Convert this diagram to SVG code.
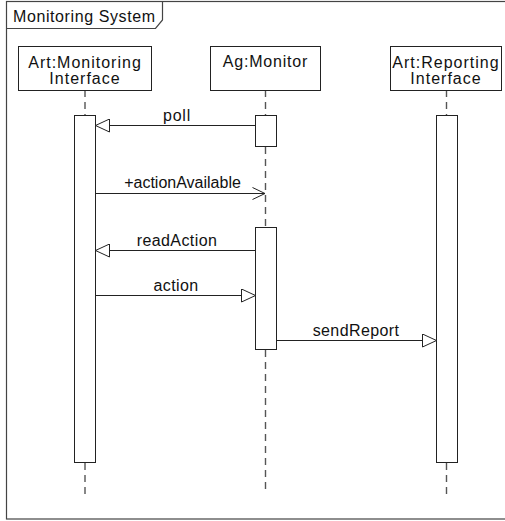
<svg xmlns="http://www.w3.org/2000/svg" width="505" height="521" viewBox="0 0 505 521">
<defs>
<style>
text{font-family:"Liberation Sans",Arial,sans-serif;font-size:16px;fill:#111}
.head{letter-spacing:1px;text-anchor:middle}
.box{fill:#fff;stroke:#222;stroke-width:1}
.life{stroke:#555;stroke-width:1.4;stroke-dasharray:7 5;fill:none}
.msg{stroke:#222;stroke-width:1;fill:none}
.lbl{text-anchor:middle}
</style>
<marker id="tri" viewBox="0 0 15 14" refX="14.5" refY="7" markerWidth="15" markerHeight="14" markerUnits="userSpaceOnUse" orient="auto">
<path d="M0.5,0.5 L14.5,7 L0.5,13.5 Z" fill="#fff" stroke="#222" stroke-width="1"/>
</marker>
<marker id="open" viewBox="0 0 14 14" refX="13" refY="7" markerWidth="14" markerHeight="14" markerUnits="userSpaceOnUse" orient="auto">
<path d="M0.5,1 L13,7 L0.5,13" fill="none" stroke="#222" stroke-width="1"/>
</marker>
</defs>
<rect width="505" height="521" fill="#fff"/>
<g id="frame">
<rect x="6.5" y="1.5" width="510" height="517.5" fill="none" stroke="#444" stroke-width="1.2"/>
<path d="M6.5,28.5 H155.5 L162.5,20 V1.5" fill="none" stroke="#444" stroke-width="1.2"/>
<text x="13" y="22" style="letter-spacing:0.6px">Monitoring System</text>
</g>
<g id="lifelines">
<line class="life" x1="85" y1="90" x2="85" y2="115"/>
<line class="life" x1="85" y1="463" x2="85" y2="499"/>
<line class="life" x1="265.5" y1="90" x2="265.5" y2="115"/>
<line class="life" x1="265.5" y1="147" x2="265.5" y2="227"/>
<line class="life" x1="265.5" y1="350" x2="265.5" y2="494"/>
<line class="life" x1="446.5" y1="90" x2="446.5" y2="115"/>
<line class="life" x1="446.5" y1="463" x2="446.5" y2="499"/>
</g>
<g id="monitoringInterface">
<rect class="box" x="18.5" y="46.5" width="133" height="44"/>
<text class="head" x="85" y="68">Art:Monitoring</text>
<text class="head" x="85" y="84">Interface</text>
<rect class="box" x="74.5" y="115.5" width="21" height="347"/>
</g>
<g id="monitor">
<rect class="box" x="210.5" y="46.5" width="110" height="44"/>
<text class="head" x="265.5" y="67" style="letter-spacing:0.8px">Ag:Monitor</text>
<rect class="box" x="255.5" y="115.5" width="21" height="31"/>
<rect class="box" x="255.5" y="227.5" width="21" height="122"/>
</g>
<g id="reportingInterface">
<rect class="box" x="390.5" y="46.5" width="111" height="44"/>
<text class="head" x="446" y="68">Art:Reporting</text>
<text class="head" x="446" y="84">Interface</text>
<rect class="box" x="436.5" y="115.5" width="21" height="347"/>
</g>
<g id="connectors">
<line class="msg" x1="255.5" y1="125.5" x2="95.5" y2="125.5" marker-end="url(#tri)"/>
<text class="lbl" x="177" y="121" style="letter-spacing:0.8px">poll</text>
<line class="msg" x1="95.5" y1="193.5" x2="265" y2="193.5" marker-end="url(#open)"/>
<text class="lbl" x="182.5" y="188">+actionAvailable</text>
<line class="msg" x1="255.5" y1="250.5" x2="95.5" y2="250.5" marker-end="url(#tri)"/>
<text class="lbl" x="177" y="246" style="letter-spacing:0.4px">readAction</text>
<line class="msg" x1="95.5" y1="295.5" x2="255.5" y2="295.5" marker-end="url(#tri)"/>
<text class="lbl" x="176" y="291" style="letter-spacing:0.4px">action</text>
<line class="msg" x1="276.5" y1="340.5" x2="436.5" y2="340.5" marker-end="url(#tri)"/>
<text class="lbl" x="356" y="336" style="letter-spacing:0.4px">sendReport</text>
</g>
</svg>
